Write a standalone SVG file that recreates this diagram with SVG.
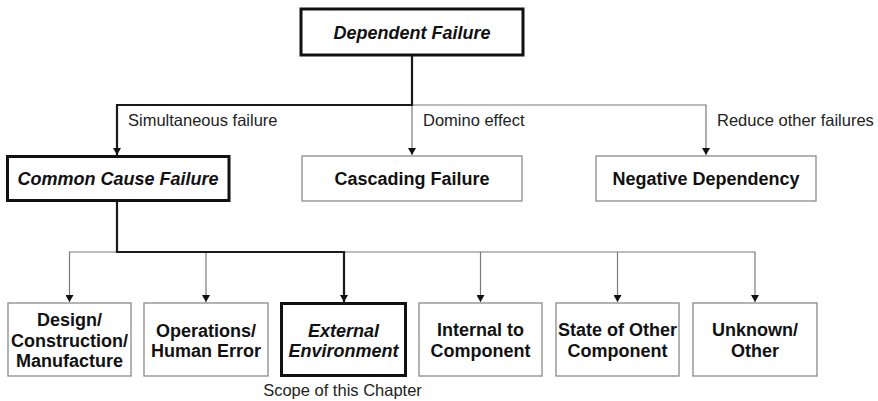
<svg xmlns="http://www.w3.org/2000/svg" width="878" height="401" viewBox="0 0 878 401">
<defs>
<marker id="ah" markerWidth="8" markerHeight="8" refX="7" refY="4" orient="auto" markerUnits="userSpaceOnUse">
<path d="M0,0 L7,4 L0,8 z" fill="#111"/>
</marker>
<style>
.thin{fill:none;stroke:#7a7a7a;stroke-width:1.2}
.thick{fill:none;stroke:#1a1a1a;stroke-width:2.2}
.box{fill:#fff;stroke:#8a8a8a;stroke-width:1.3}
.bbox{fill:#fff;stroke:#111;stroke-width:3}
.t{font-family:"Liberation Sans",Arial,sans-serif;font-size:18px;font-weight:bold;fill:#111;text-anchor:middle}
.i{font-style:italic}
.lbl{font-family:"Liberation Sans",Arial,sans-serif;font-size:16.5px;fill:#222}
</style>
</defs>
<rect width="878" height="401" fill="#fff"/>
<g id="connectors">
<path class="thin" d="M412,105 H706 V155" marker-end="url(#ah)"/>
<path class="thin" d="M412,105 V155" marker-end="url(#ah)"/>
<path class="thick" d="M412,55 V105 H117 V155" marker-end="url(#ah)"/>
<path class="thin" d="M117,252 H69.5 V302" marker-end="url(#ah)"/>
<path class="thin" d="M206,252 V302" marker-end="url(#ah)"/>
<path class="thin" d="M344,252 H755 V302" marker-end="url(#ah)"/>
<path class="thin" d="M480.5,252 V302" marker-end="url(#ah)"/>
<path class="thin" d="M617.5,252 V302" marker-end="url(#ah)"/>
<path class="thick" d="M117,201 V252 H344 V302" marker-end="url(#ah)"/>
<text class="lbl" x="128" y="126">Simultaneous failure</text>
<text class="lbl" x="423" y="126">Domino effect</text>
<text class="lbl" x="717" y="126">Reduce other failures</text>
</g>
<g id="dependent-failure">
<rect class="bbox" x="301" y="9" width="222" height="46"/>
<text class="t i" x="412" y="38.5">Dependent Failure</text>
</g>
<g id="common-cause-failure">
<rect class="bbox" x="7.5" y="156.5" width="221.5" height="44"/>
<text class="t i" x="118" y="185">Common Cause Failure</text>
</g>
<g id="cascading-failure">
<rect class="box" x="302" y="156" width="220" height="45"/>
<text class="t" x="412" y="185">Cascading Failure</text>
</g>
<g id="negative-dependency">
<rect class="box" x="596" y="156" width="220" height="45"/>
<text class="t" x="706" y="185">Negative Dependency</text>
</g>
<g id="design">
<rect class="box" x="8" y="303" width="123" height="73"/>
<text class="t" x="69.5" y="326">Design/</text>
<text class="t" x="69.5" y="346.5">Construction/</text>
<text class="t" x="69.5" y="367">Manufacture</text>
</g>
<g id="operations">
<rect class="box" x="144" y="303" width="124" height="73"/>
<text class="t" x="206" y="337">Operations/</text>
<text class="t" x="206" y="357">Human Error</text>
</g>
<g id="external-environment">
<rect class="bbox" x="281.5" y="303.5" width="124" height="72"/>
<text class="t i" x="343.5" y="337">External</text>
<text class="t i" x="343.5" y="357">Environment</text>
</g>
<g id="internal">
<rect class="box" x="419" y="303" width="123" height="73"/>
<text class="t" x="480.5" y="336">Internal to</text>
<text class="t" x="480.5" y="357">Component</text>
</g>
<g id="state-other">
<rect class="box" x="556" y="303" width="123" height="73"/>
<text class="t" x="617.5" y="336">State of Other</text>
<text class="t" x="617.5" y="357">Component</text>
</g>
<g id="unknown">
<rect class="box" x="693" y="303" width="124" height="73"/>
<text class="t" x="755" y="336">Unknown/</text>
<text class="t" x="755" y="357">Other</text>
</g>
<g id="scope-note">
<text class="lbl" x="342.5" y="396" text-anchor="middle">Scope of this Chapter</text>
</g>
</svg>
